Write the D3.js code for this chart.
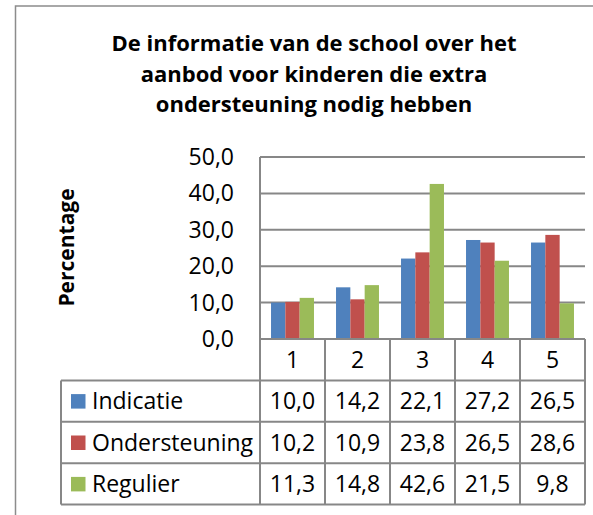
<!DOCTYPE html>
<html>
<head>
<meta charset="utf-8">
<script src="https://cdn.jsdelivr.net/npm/d3@7"></script>
<style>
  body { margin: 0; background: #fff; }
  text { font-family: "Open Sans", Lato, sans-serif; fill: #000; }
</style>
</head>
<body>
<svg id="chart"></svg>
<script>
// data
const categories = ["1", "2", "3", "4", "5"];
const seriesNames = ["Indicatie", "Ondersteuning", "Regulier"];
const indicatie = [10.0, 14.2, 22.1, 27.2, 26.5];
const ondersteuning = [10.2, 10.9, 23.8, 26.5, 28.6];
const regulier = [11.3, 14.8, 42.6, 21.5, 9.8];
const yTicks = [0, 10, 20, 30, 40, 50];
const titleLines = [
  "De informatie van de school over het",
  "aanbod voor kinderen die extra",
  "ondersteuning nodig hebben"
];
const yTitle = "Percentage";

const values = [indicatie, ondersteuning, regulier];
const colors = ["#4F81BD", "#C0504D", "#9BBB59"];
const gridColor = "#878787";

let width = 593, height = 515;
let svg = d3.select("#chart").attr("width", width).attr("height", height);

// chart frame (runs off the right and bottom edge)
svg.append("rect")
  .attr("x", 15.5).attr("y", 6)
  .attr("width", 640).attr("height", 560)
  .attr("fill", "none").attr("stroke", "#8c8c8c").attr("stroke-width", 1.5);

// title
svg.append("g").selectAll("text").data(titleLines).enter().append("text")
  .attr("x", 314)
  .attr("y", (d, i) => 51 + i * 30.5)
  .attr("text-anchor", "middle")
  .attr("font-size", 22)
  .attr("font-weight", "bold")
  .text(d => d);

let plot = { left: 260, right: 585, top: 157, bottom: 339 };
let rows = [339, 380.5, 421.7, 463.3, 504.5];
let tableLeft = 61;
let fs = 23;

let x = d3.scaleBand().domain(categories).range([plot.left, plot.right]).paddingInner(0).paddingOuter(0);
let xs = d3.scaleBand().domain(seriesNames).range([0, x.bandwidth()]).paddingInner(0).paddingOuter(0.77);
let y = d3.scaleLinear().domain([0, 50]).range([plot.bottom, plot.top]);
let fmt = v => d3.format(".1f")(v).replace(".", ",");

// gridlines
svg.append("g").selectAll("line").data(yTicks.slice(1)).enter().append("line")
  .attr("x1", plot.left).attr("x2", plot.right)
  .attr("y1", d => y(d)).attr("y2", d => y(d))
  .attr("stroke", gridColor).attr("stroke-width", 2);

// y tick labels
svg.append("g").selectAll("text").data(yTicks).enter().append("text")
  .attr("x", 234)
  .attr("y", d => y(d))
  .attr("dy", "0.35em")
  .attr("text-anchor", "end")
  .attr("font-size", fs)
  .text(d => fmt(d));

// y axis title
svg.append("text")
  .attr("transform", "translate(74,247.5) rotate(-90)")
  .attr("text-anchor", "middle")
  .attr("font-size", 21)
  .attr("font-weight", "bold")
  .text(yTitle);

// bars
let groups = svg.append("g").selectAll("g").data(values).enter().append("g")
  .attr("fill", (d, i) => colors[i]);
groups.each(function (vals, si) {
  d3.select(this).selectAll("rect").data(vals).enter().append("rect")
    .attr("x", (d, i) => x(categories[i]) + xs(seriesNames[si]))
    .attr("width", xs.bandwidth())
    .attr("y", d => y(d))
    .attr("height", d => y(0) - y(d));
});

// axes and data table lines
let lines = svg.append("g").attr("stroke", gridColor).attr("stroke-width", 2);
lines.append("line").attr("x1", plot.left).attr("x2", plot.left).attr("y1", plot.top).attr("y2", rows[4]);
lines.append("line").attr("x1", plot.left).attr("x2", plot.right).attr("y1", plot.bottom).attr("y2", plot.bottom);
categories.forEach(c => {
  lines.append("line")
    .attr("x1", x(c) + x.bandwidth()).attr("x2", x(c) + x.bandwidth())
    .attr("y1", plot.bottom).attr("y2", rows[4]);
});
rows.slice(1).forEach(r => {
  lines.append("line").attr("x1", tableLeft).attr("x2", plot.right).attr("y1", r).attr("y2", r);
});
lines.append("line").attr("x1", tableLeft).attr("x2", tableLeft).attr("y1", rows[1]).attr("y2", rows[4]);

// category labels
svg.append("g").selectAll("text").data(categories).enter().append("text")
  .attr("x", d => x(d) + x.bandwidth() / 2)
  .attr("y", (rows[0] + rows[1]) / 2)
  .attr("dy", "0.35em")
  .attr("text-anchor", "middle")
  .attr("font-size", fs)
  .text(d => d);

// table rows
seriesNames.forEach((name, si) => {
  let cy = (rows[si + 1] + rows[si + 2]) / 2;
  svg.append("rect")
    .attr("x", 71).attr("y", cy - 7)
    .attr("width", 14.5).attr("height", 14.5)
    .attr("fill", colors[si]);
  svg.append("text")
    .attr("x", 92).attr("y", cy).attr("dy", "0.35em")
    .attr("font-size", fs)
    .text(name);
  svg.append("g").selectAll("text").data(values[si]).enter().append("text")
    .attr("x", (d, i) => x(categories[i]) + x.bandwidth() / 2)
    .attr("y", cy).attr("dy", "0.35em")
    .attr("text-anchor", "middle")
    .attr("font-size", fs)
    .text(d => fmt(d));
});
</script>
</body>
</html>
